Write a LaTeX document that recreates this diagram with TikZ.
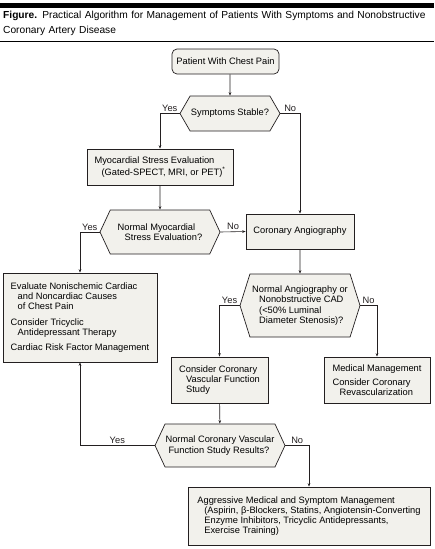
\documentclass[tikz,border=0pt]{standalone}
\usepackage{fontspec}
\setmainfont{Liberation Sans}
\definecolor{boxfill}{RGB}{242,241,236}
\definecolor{lineblk}{RGB}{35,31,32}
\usetikzlibrary{arrows.meta,positioning,shapes.symbols}
\newcommand{\ind}{\hspace*{7pt}}

\begin{document}
\begin{tikzpicture}[x=1pt,y=-1pt,
  box/.style={draw=lineblk,line width=0.7pt,fill=boxfill,align=left,inner sep=0pt,font=\fontsize{9.3}{10.2}\selectfont},
  hexa/.style={box,signal,signal to=east and west},
  lbl/.style={font=\fontsize{9.3}{10}\selectfont,above,inner sep=1.5pt},
  arr/.style={-{Stealth[length=3.5pt,width=2.6pt]},line width=0.6pt,lineblk}]
  \useasboundingbox (0,0) rectangle (434,549);
  % Title
  \fill[black] (0,3) rectangle (434,8);
  \node[anchor=north west,inner sep=0pt,text width=430pt,align=left,font=\fontsize{10.2}{14.5}\selectfont] (title) at (3,11)
    {\textbf{Figure.} Practical Algorithm for Management of Patients With Symptoms and Nonobstructive\\Coronary Artery Disease};
  \draw[line width=1pt] (0,41) -- (434,41);
  % Start
  \node[box,rounded corners=5pt,minimum width=107pt,minimum height=25pt,align=center] (start) at (225.5,61.5) {Patient With Chest Pain};
  % Decisions and steps
  \node[hexa,signal pointer angle=120,minimum width=100pt,minimum height=35pt] (stable) at (230,113.5) {Symptoms Stable?};
  \node[box,minimum width=146pt,minimum height=36pt] (stress) at (160,167)
    {Myocardial Stress Evaluation\\\ind(Gated-SPECT, MRI, or PET)\textsuperscript{*}};
  \node[hexa,signal pointer angle=130,minimum width=120pt,minimum height=44pt] (nmyo) at (160,232)
    {Normal Myocardial\\\ind Stress Evaluation?};
  \node[box,minimum width=108pt,minimum height=35pt] (angio) at (300,231.5) {Coronary Angiography};
  \node[box,minimum width=154pt,minimum height=89pt] (eval) at (80,317.5)
    {Evaluate Nonischemic Cardiac\\\ind and Noncardiac Causes\\\ind of Chest Pain\\[5pt]
     Consider Tricyclic\\\ind Antidepressant Therapy\\[5pt]Cardiac Risk Factor Management};
  \node[hexa,signal pointer angle=145,minimum width=120pt,minimum height=63pt] (nangio) at (300,305.5)
    {Normal Angiography or\\\ind Nonobstructive CAD\\\ind(<50\% Luminal\\\ind Diameter Stenosis)?};
  \node[box,minimum width=97pt,minimum height=46pt] (cvf) at (219.5,380)
    {Consider Coronary\\\ind Vascular Function\\\ind Study};
  \node[box,minimum width=106pt,minimum height=46pt] (medical) at (377,380)
    {Medical Management\\[4pt]Consider Coronary\\\ind Revascularization};
  \node[hexa,signal pointer angle=130,minimum width=130pt,minimum height=43pt] (nvasc) at (220,445.5)
    {Normal Coronary Vascular\\\hspace*{3pt}Function Study Results?};
  \node[box,minimum width=242pt,minimum height=58pt] (agg) at (309,516)
    {Aggressive Medical and Symptom Management\\\ind(Aspirin, β-Blockers, Statins, Angiotensin-Converting\\
     \ind Enzyme Inhibitors, Tricyclic Antidepressants,\\\ind Exercise Training)};
  % Arrows
  \draw[arr] (start.south -| stable) -- (stable);
  \draw[arr] (stable.west) -| node[lbl,pos=0.25]{Yes} (stress.north);
  \draw[arr] (stable.east) -| node[lbl,pos=0.25]{No} (angio.north);
  \draw[arr] (stress) -- (nmyo);
  \draw[arr] (nmyo.east) -- node[lbl]{No} (angio.west);
  \draw[arr] (nmyo.west) -| node[lbl,pos=0.25]{Yes} (eval.north);
  \draw[arr] (angio) -- (nangio);
  \draw[arr] (nangio.west) -| node[lbl,pos=0.25]{Yes} (cvf.north);
  \draw[arr] (nangio.east) -| node[lbl,pos=0.25]{No} (medical.north);
  \draw[arr] (cvf) -- (nvasc);
  \draw[arr] (nvasc.west) -| node[lbl,pos=0.25]{Yes} (eval.south);
  \draw[arr] (nvasc.east) -| node[lbl,pos=0.25]{No} (agg.north);
\end{tikzpicture}
\end{document}
